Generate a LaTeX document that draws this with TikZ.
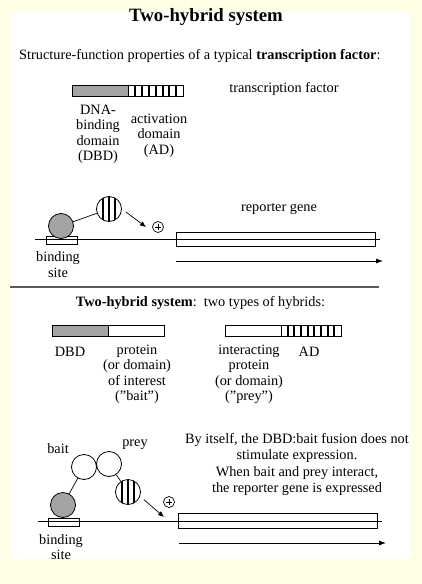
\documentclass[tikz,border=0pt]{standalone}
\usepackage{fontspec}
\setmainfont{Liberation Serif}
\usetikzlibrary{arrows.meta, positioning}
\definecolor{bgcream}{HTML}{FFFFE8}
\definecolor{dbdgray}{HTML}{A4A4A4}

\begin{document}
\begin{tikzpicture}[
    x=1pt, y=-1pt,
    font=\fontsize{14.3}{15.5}\selectfont,
    % styles
    txt/.style={inner sep=0pt, align=center},
    bar/.style={rectangle, draw=black, line width=0.9pt, fill=white, minimum height=11pt, inner sep=0pt, outer sep=0pt},
    stripe/.style={line width=2pt},
    ball/.style={circle, draw=black, line width=0.8pt, fill=white, minimum size=25pt, inner sep=0pt},
    dbdball/.style={ball, fill=dbdgray},
    adball/.style={ball, path picture={
        \foreach \dx in {-6,0,6}
            \draw[stripe] ([xshift=\dx pt]path picture bounding box.north) -- ([xshift=\dx pt]path picture bounding box.south);}},
    site/.style={rectangle, draw=black, line width=0.8pt, inner sep=0pt, minimum width=31pt, minimum height=8.5pt},
    gene/.style={rectangle, draw=black, line width=0.8pt, inner sep=0pt, minimum width=199pt, minimum height=14.5pt},
    plus/.style={circle, draw=black, line width=0.7pt, minimum size=11pt, inner sep=0pt, path picture={
        \draw[line width=0.7pt] ([yshift=-2.5pt]path picture bounding box.north) -- ([yshift=2.5pt]path picture bounding box.south);
        \draw[line width=0.7pt] ([xshift=2.5pt]path picture bounding box.west) -- ([xshift=-2.5pt]path picture bounding box.east);}},
    dna/.style={line width=0.8pt},
    act/.style={-{Latex[length=6pt, width=5pt]}, line width=0.7pt},
    expr/.style={-{Latex[length=7pt, width=5pt]}, line width=0.8pt}
]

    % --- background ---
    \fill[bgcream] (0,0) rectangle (422,584);
    \fill[white] (12,12) rectangle (410,559);
    \useasboundingbox (0,0) rectangle (422,584);

    % --- heading ---
    \node (title) [txt, font=\fontsize{18.8}{20}\selectfont\bfseries] at (206,17) {Two-hybrid system};
    \node (intro) [txt, anchor=west] at (19,56) {Structure-function properties of a typical \textbf{transcription factor}:};

    % --- transcription factor ---
    \node (dbd1) [bar, fill=dbdgray, minimum width=56pt, anchor=west] at (72,91) {};
    \node (ad1) [bar, minimum width=55pt, right=0pt of dbd1] {};
    \foreach \k in {1,...,7}
        \draw[stripe] ([xshift=\k*6.9pt]ad1.south west) -- ([xshift=\k*6.9pt]ad1.north west);
    \node (tflbl) [txt] at (284,89) {transcription factor};
    \node (dbdlbl1) [txt] at (98,134.5) {DNA-\\binding\\domain\\(DBD)};
    \node (adlbl1) [txt] at (159,135.5) {activation\\domain\\(AD)};

    % --- scene 1 ---
    \coordinate (dna1a) at (35,239);
    \coordinate (dna1b) at (380,239);
    \draw[dna] (dna1a) -- (dna1b);
    \node (site1) [site] at (61.5,240.5) {};
    \node (dbdc1) [dbdball] at (61,226) {};
    \node (adc1) [adball] at (109,209) {};
    \draw[line width=0.7pt] (dbdc1) -- (adc1);
    \node (plus1) [plus] at (158,227) {};
    \coordinate (tip1) at (146,227);
    \draw[act, shorten <=5pt] (adc1.east) -- (tip1);
    \node (rep1) [gene] at (275.5,239.5) {};
    \node (replbl) [txt] at (279,209) {reporter gene};
    \coordinate (tx1a) at (176,261);
    \coordinate (tx1b) at (383,261);
    \draw[expr] (tx1a) -- (tx1b);
    \node (sitelbl1) [txt] at (58,264.5) {binding\\site};

    % --- separator ---
    \coordinate (sepa) at (10,287);
    \coordinate (sepb) at (379,287);
    \draw[line width=1.1pt, black!65] (sepa) -- (sepb);

    % --- hybrids ---
    \node (hyb) [txt] at (200.5,303) {\textbf{Two-hybrid system}:\ \ two types of hybrids:};
    \node (dbd2) [bar, fill=dbdgray, minimum width=56pt, anchor=west] at (52,330.5) {};
    \node (bait2) [bar, minimum width=56pt, right=0pt of dbd2] {};
    \node (prey2) [bar, minimum width=56pt, anchor=west] at (225,330.5) {};
    \node (ad2) [bar, minimum width=60pt, right=0pt of prey2] {};
    \foreach \k in {1,...,8}
        \draw[stripe] ([xshift=\k*6.67pt]ad2.south west) -- ([xshift=\k*6.67pt]ad2.north west);
    \node (dbdlbl2) [txt] at (70,352) {DBD};
    \node (baitlbl) [txt] at (137,374.5) {protein\\(or domain)\\of interest\\(”bait”)};
    \node (preylbl) [txt] at (249,374.5) {interacting\\protein\\(or domain)\\(”prey”)};
    \node (adlbl2) [txt] at (309,352) {AD};

    % --- scene 2 ---
    \coordinate (dna2a) at (38,521);
    \coordinate (dna2b) at (382,521);
    \draw[dna] (dna2a) -- (dna2b);
    \node (site2) [site] at (63.5,522.5) {};
    \node (dbdc2) [dbdball] at (63,505) {};
    \node (baitc) [ball] at (84,467) {};
    \node (preyc) [ball] at (109,464) {};
    \node (adc2) [adball] at (128,492) {};
    \draw[line width=0.7pt] (dbdc2) -- (baitc);
    \draw[line width=0.7pt] (preyc) -- (adc2);
    \node (baitname) [txt] at (58,449) {bait};
    \node (preyname) [txt] at (135,445) {prey};
    \node (plus2) [plus] at (169,502) {};
    \coordinate (tip2) at (164,517);
    \draw[act, shorten <=5pt] (adc2.-20) -- (tip2);
    \node (rep2) [gene] at (278,521) {};
    \coordinate (tx2a) at (179,543);
    \coordinate (tx2b) at (386,543);
    \draw[expr] (tx2a) -- (tx2b);
    \node (sitelbl2) [txt] at (61,547) {binding\\site};
    \node (note) [txt, font=\fontsize{14.3}{16.3}\selectfont] at (297,464.5) {By itself, the DBD:bait fusion does not\\stimulate expression.\\When bait and prey interact,\\the reporter gene is expressed};

\end{tikzpicture}
\end{document}
